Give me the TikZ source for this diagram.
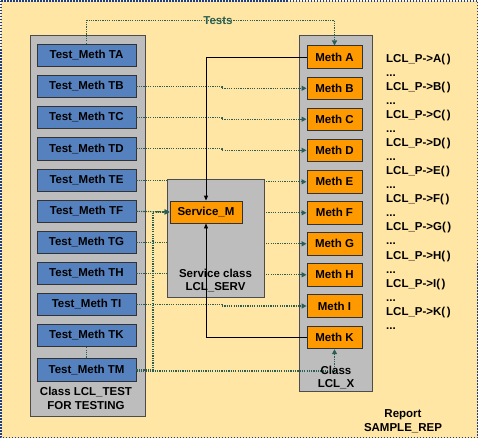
\documentclass[tikz,border=0pt]{standalone}
\usepackage{fontspec}
\setmainfont{Liberation Sans}
\usetikzlibrary{arrows.meta}
\definecolor{bgy}{HTML}{FFE6A4}
\definecolor{clsg}{HTML}{BDBDBD}
\definecolor{tblue}{HTML}{5581BE}
\definecolor{morange}{HTML}{FF9900}
\definecolor{lnk}{HTML}{2A5E52}
\definecolor{brd}{HTML}{1F3F80}
\begin{document}
\begin{tikzpicture}[x=1pt,y=-1pt,
 every node/.style={font=\fontsize{11.5}{13.5}\selectfont\bfseries, inner sep=0pt, text=black},
 cls/.style={draw=black!70, fill=clsg, line width=0.9pt},
 tbox/.style={draw=black!80, fill=tblue, line width=0.9pt, minimum width=99pt, minimum height=22.5pt},
 mbox/.style={draw=black!80, fill=morange, line width=0.9pt, minimum width=55pt, minimum height=22.5pt},
 dlink/.style={draw=lnk, line width=1.2pt, dash pattern=on 1.2pt off 1.1pt},
 dlinkarr/.style={dlink, -{Triangle[length=5pt,width=5pt]}},
 slink/.style={draw=black, line width=0.9pt, -{Triangle[length=5pt,width=4pt]}},
 lbl/.style={align=center}
]
\useasboundingbox (0,0) rectangle (500,444);
% report background
\path[fill=bgy, draw=brd, line width=1.5pt, dash pattern=on 1.5pt off 1.5pt] (1,1) rectangle (477.5,437.5);

% class containers
\node[cls, minimum width=115pt, minimum height=381pt] (lcltest) at (87.5,225.5) {};
\node[cls, minimum width=73pt, minimum height=356pt] (lclx) at (335.5,213) {};

% helper coordinates
\coordinate (jog) at (222,0);
\coordinate (vert) at (153,0);
\coordinate (topy) at (0,20.5);
\coordinate (boty) at (0,371);

% test method nodes
\path
 (86.5,55.5)  node[tbox] (TA) {Test\_Meth TA}
 (86.5,86.5)  node[tbox] (TB) {Test\_Meth TB}
 (86.5,117.5) node[tbox] (TC) {Test\_Meth TC}
 (86.5,148.7) node[tbox] (TD) {Test\_Meth TD}
 (86.5,180.3) node[tbox] (TE) {Test\_Meth TE}
 (86.5,211.3) node[tbox] (TF) {Test\_Meth TF}
 (86.5,242.2) node[tbox] (TG) {Test\_Meth TG}
 (86.5,273.2) node[tbox] (TH) {Test\_Meth TH}
 (86.5,304.2) node[tbox] (TI) {Test\_Meth TI}
 (86.5,335.5) node[tbox] (TK) {Test\_Meth TK};
\path
 (334.5,57.2)  node[mbox] (MA) {Meth A}
 (334.5,88.3)  node[mbox] (MB) {Meth B}
 (334.5,119.2) node[mbox] (MC) {Meth C}
 (334.5,150.3) node[mbox] (MD) {Meth D}
 (334.5,181.8) node[mbox] (ME) {Meth E}
 (334.5,212.8) node[mbox] (MF) {Meth F}
 (334.5,243.8) node[mbox] (MG) {Meth G}
 (334.5,274.8) node[mbox] (MH) {Meth H}
 (334.5,306)   node[mbox] (MI) {Meth I}
 (334.5,337.5) node[mbox] (MK) {Meth K};

% dotted test links
\draw[dlinkarr] (TA.north) -- (TA.north |- topy) -| (MA.north);
\foreach \t in {B,C,D,E,F,G,H,I}{
  \draw[dlinkarr] (T\t.east) -- (T\t.east -| jog) |- (M\t.west);
}
\draw[dlinkarr] (TK.south) -- (TK.south |- boty) -| (MK.south);

% test method TM over the link
\node[tbox] (TM) at (86.5,370) {Test\_Meth TM};

% service class
\node[cls, minimum width=97pt, minimum height=118pt] (serv) at (215.5,238) {};
\node[draw=black!80, fill=morange, line width=0.9pt, minimum width=72pt, minimum height=22pt] (SM) at (206,212) {Service\_M};

% dotted links into service method
\draw[dlinkarr] (TF.east) -- (SM.west);
\draw[dlinkarr] (TM.east) -- (TM.east -| vert) |- (SM.west);

% solid calls from methods to the service method
\draw[slink] (MA.west) -| (SM.north);
\draw[slink] (MK.west) -| (SM.south);

% labels
\node[text=lnk] (tests) at (218,21) {Tests};
\node[lbl] (ltest) at (86,398.5) {Class LCL\_TEST\\FOR TESTING};
\node[lbl] (lserv) at (215.5,280.5) {Service class\\LCL\_SERV};
\node[lbl] (lx) at (336,377.5) {Class\\LCL\_X};
\node[lbl] (lrep) at (403,421) {Report\\SAMPLE\_REP};

\foreach \l [count=\i from 0] in {A,B,C,D,E,F,G,H,I,K}{
  \node[anchor=base west] (lp\l) at (386,{62.3+28.1*\i}) {LCL\_P->\l(\kern1.5pt)};
  \node[anchor=base west] (ld\l) at (386,{76.35+28.1*\i}) {...};
}
\end{tikzpicture}
\end{document}
